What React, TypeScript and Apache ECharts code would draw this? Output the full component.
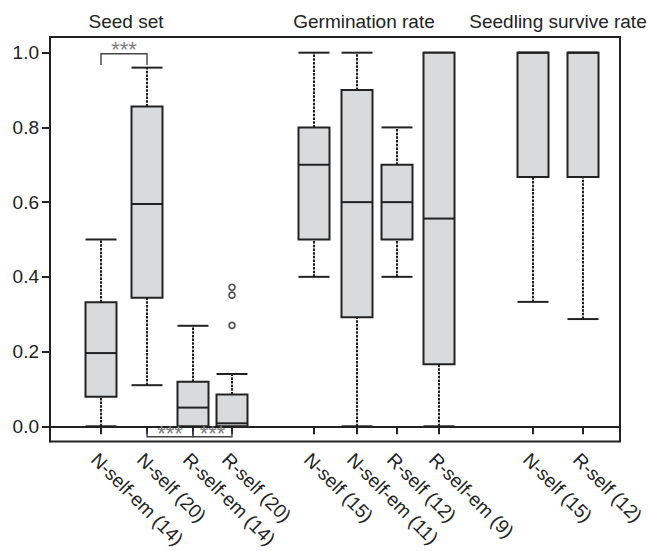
import React, { useEffect, useRef } from "react";
import * as echarts from "echarts";

// ---- data ----
const categories = [
  "N-self-em (14)", "N-self (20)", "R-self-em (14)", "R-self (20)",
  "N-self (15)", "N-self-em (11)", "R-self (12)", "R-self-em (9)",
  "N-self (15)", "R-self (12)",
];
const groupTitles = ["Seed set", "Germination rate", "Seedling survive rate"];
const whiskerLow = [0, 0.11, 0, 0, 0.4, 0, 0.4, 0, 0.333, 0.287];
const q1 = [0.079, 0.344, 0, 0, 0.5, 0.292, 0.5, 0.166, 0.667, 0.667];
const median = [0.196, 0.595, 0.05, 0.008, 0.7, 0.6, 0.6, 0.556, 1, 1];
const q3 = [0.332, 0.856, 0.119, 0.085, 0.8, 0.9, 0.7, 1, 1, 1];
const whiskerHigh = [0.5, 0.96, 0.269, 0.14, 1, 1, 0.8, 1, 1, 1];
const outlierCategory = [3, 3, 3];
const outlierValues = [0.372, 0.351, 0.27];
const yTicks = [0, 0.2, 0.4, 0.6, 0.8, 1.0];
const sigLabel = "***";
// significance brackets: between category indexes, at a value, with legs
const sigFrom = [0, 1, 2];
const sigTo = [1, 2, 3];
const sigLevel = [0.997, -0.028, -0.028];

// ---- layout (not data) ----
const W = 648;
const H = 551;
const GRID = { left: 50, right: 28, top: 37, bottom: 108 };
const X_MAX = W - GRID.left - GRID.right;
const xPos = [51, 97, 143, 182, 264, 307, 347, 389, 483, 533];
const titleX = [76, 314, 508];
const BOX_W = 31;
const legLen = [-0.03, 0.015, 0.015];
const starOffset = [-4, -3, -3];
const INK = "#222";
const FONT = "'Liberation Sans', Arial, sans-serif";

export default function App() {
  const ref = useRef<HTMLDivElement>(null);
  useEffect(() => {
    document.body.style.margin = "0";
    const chart = echarts.init(ref.current!, null, { renderer: "svg" });

    const boxData = categories.map((_, i) => [
      xPos[i], whiskerLow[i], q1[i], median[i], q3[i], whiskerHigh[i],
    ]);
    const outlierData = outlierValues.map((v, i) => [xPos[outlierCategory[i]], v]);
    const sigData = sigFrom.map((a, i) => [xPos[a], xPos[sigTo[i]], sigLevel[i], legLen[i], starOffset[i]]);

    chart.setOption({
      animation: false,
      grid: {
        ...GRID,
        show: true,
        borderColor: INK,
        borderWidth: 2,
        backgroundColor: "transparent",
      },
      graphic: groupTitles.map((t, i) => ({
        type: "text",
        x: GRID.left + titleX[i],
        y: 21,
        style: {
          text: t,
          fill: INK,
          font: `19px ${FONT}`,
          textAlign: "center",
          textVerticalAlign: "middle",
        },
      })),
      xAxis: {
        type: "value",
        min: 0,
        max: X_MAX,
        splitLine: { show: false },
        axisLine: { show: true, lineStyle: { color: INK, width: 2 } },
        axisTick: {
          show: true,
          customValues: xPos,
          length: 8,
          lineStyle: { color: INK, width: 2 },
        },
        axisLabel: {
          customValues: xPos,
          rotate: -45,
          margin: 8,
          verticalAlign: "top",
          fontSize: 19,
          fontFamily: FONT,
          color: INK,
          formatter: (v: number) => categories[xPos.indexOf(Math.round(v))] ?? "",
        },
      },
      yAxis: {
        type: "value",
        min: -0.041,
        max: 1.042,
        splitLine: { show: false },
        axisLine: { show: true, lineStyle: { color: INK, width: 2 } },
        axisTick: {
          show: true,
          customValues: yTicks,
          length: 8,
          lineStyle: { color: INK, width: 2 },
        },
        axisLabel: {
          customValues: yTicks,
          margin: 11,
          fontSize: 19,
          fontFamily: FONT,
          color: INK,
          formatter: (v: number) => v.toFixed(1),
        },
      },
      series: [
        {
          type: "custom",
          name: "box",
          data: boxData,
          encode: { x: 0, y: [1, 2, 3, 4, 5] },
          renderItem: (params: any, api: any) => {
            const x = api.value(0);
            const lo = api.coord([x, api.value(1)]);
            const b1 = api.coord([x, api.value(2)]);
            const md = api.coord([x, api.value(3)]);
            const b3 = api.coord([x, api.value(4)]);
            const hi = api.coord([x, api.value(5)]);
            const hw = api.size([BOX_W, 0])[0] / 2;
            const cx = lo[0];
            const dash = { stroke: "#1a1a1a", lineWidth: 2, lineDash: [2.5, 1.2], fill: null };
            const solid = { stroke: INK, lineWidth: 2, fill: null };
            return {
              type: "group",
              children: [
                { type: "line", shape: { x1: cx, y1: b3[1], x2: cx, y2: hi[1] }, style: dash },
                { type: "line", shape: { x1: cx, y1: lo[1], x2: cx, y2: b1[1] }, style: dash },
                { type: "line", shape: { x1: cx - hw, y1: hi[1], x2: cx + hw, y2: hi[1] }, style: solid },
                { type: "line", shape: { x1: cx - hw, y1: lo[1], x2: cx + hw, y2: lo[1] }, style: solid },
                {
                  type: "rect",
                  shape: { x: cx - hw, y: b3[1], width: 2 * hw, height: b1[1] - b3[1] },
                  style: { fill: "#d9dadc", stroke: INK, lineWidth: 2 },
                },
                { type: "line", shape: { x1: cx - hw, y1: md[1], x2: cx + hw, y2: md[1] }, style: solid },
              ],
            };
          },
          z: 2,
        },
        {
          type: "scatter",
          name: "outliers",
          data: outlierData,
          symbol: "circle",
          symbolSize: 6,
          itemStyle: { color: "#fff", borderColor: INK, borderWidth: 1.6 },
          z: 3,
        },
        {
          type: "custom",
          name: "sig",
          data: sigData,
          encode: { x: [0, 1], y: 2 },
          clip: false,
          renderItem: (params: any, api: any) => {
            const a = api.coord([api.value(0), api.value(2)]);
            const b = api.coord([api.value(1), api.value(2)]);
            const legEnd = api.coord([api.value(0), api.value(2) + api.value(3)]);
            const off = api.value(4);
            const stroke = "#444";
            return {
              type: "group",
              children: [
                {
                  type: "polyline",
                  shape: {
                    points: [
                      [a[0], legEnd[1]],
                      [a[0], a[1]],
                      [b[0], b[1]],
                      [b[0], legEnd[1]],
                    ],
                  },
                  style: { stroke, lineWidth: 1.4, fill: null },
                },
                {
                  type: "text",
                  x: (a[0] + b[0]) / 2,
                  y: a[1] + off,
                  style: {
                    text: sigLabel,
                    fill: "#808080",
                    font: `22px ${FONT}`,
                    textAlign: "center",
                    textVerticalAlign: "middle",
                  },
                },
              ],
            };
          },
          z: 4,
        },
      ],
    });
    return () => chart.dispose();
  }, []);
  return <div ref={ref} style={{ width: W, height: H }} />;
}
